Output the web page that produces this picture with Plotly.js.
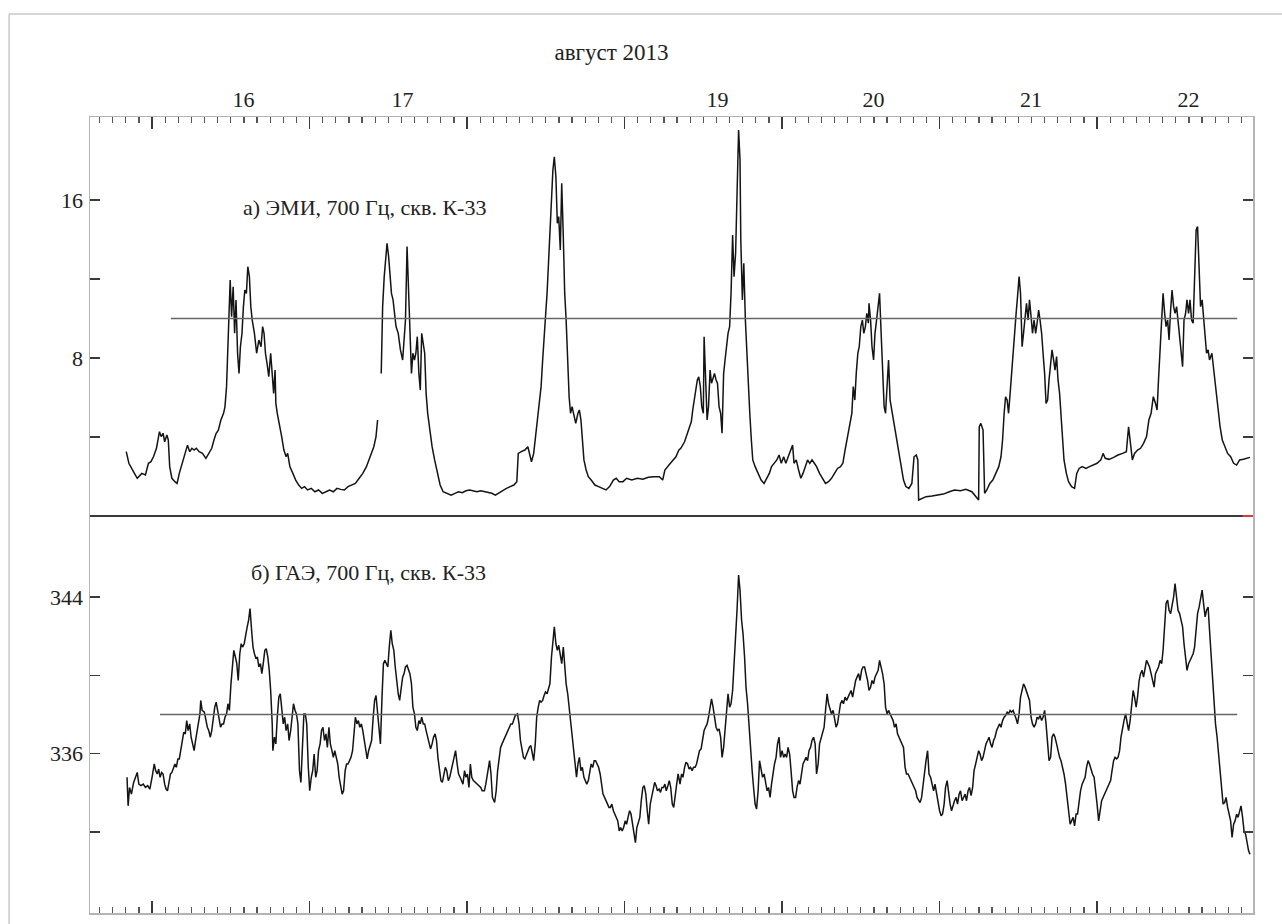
<!DOCTYPE html>
<html>
<head>
<meta charset="utf-8">
<script src="https://cdn.plot.ly/plotly-3.0.1.min.js"></script>
<style>
html,body{margin:0;padding:0;background:#fff;}
#chart{width:1282px;height:924px;}
</style>
</head>
<body>
<div id="chart"></div>
<script>
// ---- Data ----
// Time axis: day of August 2013 (fractional)
const dayLabels = ["16", "17", "19", "20", "21", "22"];
const dayLabelPos = [16.58, 17.59, 19.59, 20.58, 21.58, 22.58];
const yTicksEMI = [4, 8, 12, 16];
const yTickTextEMI = ["", "8", "", "16"];
const yTicksGAE = [332, 336, 340, 344];
const yTickTextGAE = ["", "336", "", "344"];

const titleText = "август 2013";
const labelEMI = "а) ЭМИ, 700 Гц, скв. К-33";
const labelGAE = "б) ГАЭ, 700 Гц, скв. К-33";

const emiThreshold = 10;
const gaeThreshold = 338;
const emiThresholdDays = [16.12, 22.89];
const gaeThresholdDays = [16.05, 22.89];

const emiDay = [
15.836,15.853,15.888,15.906,15.935,15.958,15.977,15.993,16.009,16.028,16.047,16.058,16.070,16.080,16.094,16.103,16.112,16.126,16.145,16.159,
16.173,16.192,16.211,16.225,16.239,16.253,16.267,16.281,16.299,16.320,16.342,16.360,16.379,16.393,16.407,16.421,16.437,16.454,16.463,16.473,
16.480,16.487,16.496,16.505,16.515,16.524,16.533,16.543,16.552,16.561,16.571,16.580,16.589,16.599,16.608,16.618,16.627,16.636,16.650,16.664,
16.678,16.692,16.702,16.711,16.720,16.730,16.741,16.753,16.763,16.772,16.781,16.786,16.795,16.809,16.823,16.837,16.851,16.861,16.875,16.894,
16.912,16.931,16.950,16.968,16.987,17.011,17.034,17.057,17.081,17.104,17.127,17.151,17.174,17.198,17.221,17.244,17.268,17.291,17.315,17.338,
17.361,17.385,17.408,17.422,17.432,17.444,
17.455,17.464,17.474,17.483,17.492,17.502,17.511,17.520,17.530,17.539,17.549,17.563,17.577,17.591,17.600,17.609,17.619,17.628,17.637,17.647,
17.656,17.666,17.675,17.684,17.694,17.703,17.712,17.722,17.731,17.740,17.750,17.764,17.778,17.794,17.811,17.829,17.848,17.876,17.899,17.923,
17.946,17.970,17.993,18.016,18.040,18.063,18.087,18.110,18.133,18.157,18.180,18.204,18.227,18.250,18.274,18.297,18.316,18.325,18.344,18.367,
18.386,18.395,18.409,18.423,18.437,18.452,18.461,18.470,18.480,18.489,18.498,18.508,18.517,18.526,18.536,18.545,18.554,18.564,18.573,18.582,
18.592,18.601,18.611,18.620,18.629,18.639,18.648,18.657,18.667,18.676,18.690,18.704,18.713,18.723,18.732,18.742,18.756,18.770,18.788,18.812,
18.835,18.858,18.882,18.905,18.929,18.947,18.966,18.990,19.013,19.046,19.081,19.116,19.151,19.186,19.221,19.242,19.256,19.291,19.326,19.345,
19.357,19.381,19.405,19.424,19.433,19.443,19.452,19.462,19.471,19.481,19.490,19.500,19.505,19.514,19.524,19.533,19.543,19.552,19.562,19.571,
19.581,19.590,19.600,19.610,19.619,19.629,19.638,19.648,19.657,19.667,19.676,19.686,19.695,19.705,19.714,19.724,19.733,19.738,19.748,19.757,
19.767,19.776,19.786,19.795,19.805,19.814,19.829,19.848,19.867,19.886,19.905,19.919,19.933,19.948,19.967,19.981,19.995,20.010,20.024,20.043,
20.057,20.067,20.076,20.090,20.105,20.119,20.133,20.148,20.162,20.176,20.190,20.205,20.219,20.238,20.257,20.276,20.295,20.314,20.333,20.352,
20.371,20.386,20.400,20.414,20.429,20.443,20.452,20.462,20.471,20.481,20.490,20.500,20.510,20.519,20.529,20.538,20.548,20.552,20.562,20.571,
20.581,20.590,20.600,20.610,20.619,20.629,20.638,20.648,20.657,20.667,20.676,20.686,20.700,20.714,20.729,20.743,20.757,20.771,20.786,20.805,
20.824,20.838,20.852,20.862,20.867,20.886,20.914,20.952,20.990,21.024,21.062,21.095,21.133,21.167,21.205,21.233,21.248,21.252,21.262,21.276,
21.286,21.300,21.319,21.338,21.357,21.376,21.390,21.400,21.410,21.419,21.429,21.438,21.448,21.457,21.467,21.476,21.486,21.495,21.505,21.514,
21.524,21.533,21.543,21.552,21.562,21.571,21.581,21.590,21.600,21.610,21.619,21.629,21.638,21.648,21.657,21.667,21.676,21.686,21.695,21.705,
21.714,21.724,21.733,21.743,21.752,21.762,21.771,21.781,21.790,21.805,21.819,21.838,21.857,21.871,21.886,21.905,21.929,21.952,21.976,22.000,
22.024,22.038,22.052,22.076,22.105,22.133,22.162,22.186,22.200,22.210,22.224,22.238,22.257,22.276,22.295,22.314,22.329,22.343,22.357,22.371,
22.381,22.390,22.400,22.410,22.419,22.429,22.438,22.448,22.457,22.467,22.476,22.486,22.495,22.505,22.514,22.524,22.533,22.543,22.552,22.562,
22.571,22.581,22.590,22.600,22.610,22.619,22.629,22.638,22.648,22.657,22.667,22.676,22.686,22.695,22.705,22.714,22.729,22.738,22.752,22.767,
22.781,22.795,22.810,22.829,22.848,22.867,22.886,22.905,22.929,22.952,22.971
];
const emiValue = [
3.26,2.67,2.16,1.91,2.16,2.08,2.67,2.75,3.00,3.43,4.27,4.02,4.19,3.76,4.10,3.85,2.50,1.91,1.74,1.65,
2.16,2.67,3.26,3.59,3.26,3.43,3.34,3.43,3.26,3.17,2.92,3.17,3.43,3.85,4.19,4.35,4.86,5.20,5.54,6.55,
8.24,9.76,11.95,10.09,11.61,9.25,10.94,8.24,7.22,8.57,9.25,10.60,11.44,11.27,12.62,12.12,10.60,9.92,9.25,8.24,
8.91,8.57,9.59,9.25,8.24,7.73,7.05,8.24,6.89,6.21,7.39,5.70,5.20,4.69,4.02,3.34,3.00,3.17,2.50,2.16,
1.82,1.57,1.40,1.49,1.32,1.40,1.23,1.32,1.15,1.23,1.32,1.23,1.40,1.35,1.32,1.49,1.57,1.65,1.91,2.16,
2.50,3.00,3.51,4.02,4.86,null,
7.22,10.60,12.12,12.96,13.81,13.13,12.12,11.27,10.94,10.09,9.59,9.25,8.41,7.90,8.74,9.92,13.64,11.61,9.25,7.22,
8.24,7.90,8.24,9.08,7.22,6.38,9.25,8.57,8.24,6.21,5.20,4.35,3.51,2.84,2.16,1.57,1.23,1.15,1.06,1.15,
1.23,1.18,1.28,1.32,1.28,1.23,1.28,1.23,1.18,1.15,1.06,1.18,1.32,1.40,1.49,1.57,1.74,3.17,3.26,3.34,
3.51,3.17,2.75,3.17,4.19,5.20,5.70,6.55,7.90,9.25,10.09,11.27,12.96,14.48,15.83,17.52,18.19,17.18,14.82,15.16,
13.47,16.84,14.14,11.27,9.92,7.56,6.04,5.20,5.54,5.20,4.69,5.20,5.37,4.86,3.85,2.84,2.33,1.99,1.82,1.57,
1.49,1.40,1.32,1.49,1.82,1.91,1.74,1.74,1.91,1.82,1.91,1.86,1.96,1.99,1.99,1.82,2.33,2.67,3.00,3.34,
3.43,3.76,4.35,4.78,5.37,5.87,6.21,6.89,7.05,6.55,5.54,5.20,9.08,6.89,4.86,5.54,7.39,6.72,7.05,7.22,
6.89,6.72,5.54,5.20,4.19,7.22,7.90,8.74,9.25,9.59,11.27,14.23,12.12,13.30,16.17,19.54,18.03,13.97,10.94,12.79,
9.92,8.24,6.55,5.20,3.85,2.84,2.50,2.16,1.82,1.65,1.91,2.16,2.50,2.67,2.84,3.09,2.67,3.00,2.67,3.09,
3.43,3.59,2.67,2.84,2.33,1.91,2.16,2.50,2.84,2.67,2.84,2.67,2.50,2.16,1.91,1.65,1.74,1.91,2.16,2.41,
2.50,2.67,3.34,4.02,4.52,5.20,6.55,5.87,7.22,8.24,8.57,9.59,9.92,9.25,9.59,10.26,9.76,10.77,9.92,8.57,
7.90,9.25,9.92,10.60,11.27,9.25,7.22,5.54,5.20,6.89,7.90,5.87,5.20,4.35,3.85,3.17,2.33,1.82,1.49,1.40,
1.65,3.00,3.09,2.84,0.81,0.89,0.98,1.01,1.06,1.11,1.23,1.32,1.28,1.35,1.23,0.98,0.81,4.52,4.69,4.35,
1.15,1.32,1.65,1.82,2.16,2.50,3.00,3.85,5.20,6.04,5.87,5.20,6.21,7.22,8.57,9.25,10.26,11.11,12.12,11.27,
8.57,9.25,10.26,10.77,9.92,10.94,10.09,9.25,9.92,9.25,9.76,10.43,9.92,9.25,8.24,7.22,5.70,5.87,6.89,7.90,
8.41,7.90,7.39,8.07,6.89,6.21,5.20,3.85,2.84,2.16,1.74,1.49,1.40,2.16,2.41,2.50,2.41,2.50,2.58,2.67,
2.84,3.17,2.92,2.87,2.97,3.09,3.17,3.26,4.52,3.68,2.84,3.17,3.34,3.43,3.68,4.02,4.86,5.20,6.04,5.70,
5.37,6.89,8.57,9.92,11.27,10.26,9.59,9.92,8.91,10.43,11.44,10.60,10.26,10.60,9.92,9.25,8.24,7.56,9.92,10.26,
10.94,10.26,10.94,9.92,9.76,11.95,14.48,14.65,12.46,10.60,10.94,9.92,9.08,8.24,8.41,7.90,8.24,7.56,6.55,5.54,
4.52,3.85,3.51,3.17,3.00,2.67,2.58,2.84,2.87,2.92,2.97
];

const gaeDay = [
15.841,15.848,15.857,15.869,15.883,15.897,15.906,15.916,15.930,15.944,15.958,15.972,15.986,16.000,16.014,16.023,16.033,16.042,16.051,16.061,
16.070,16.080,16.089,16.098,16.108,16.117,16.126,16.136,16.145,16.154,16.164,16.173,16.182,16.192,16.201,16.211,16.220,16.229,16.239,16.248,
16.257,16.267,16.276,16.285,16.295,16.304,16.309,16.318,16.332,16.342,16.351,16.360,16.370,16.379,16.388,16.398,16.407,16.416,16.426,16.435,
16.444,16.454,16.463,16.473,16.482,16.491,16.501,16.510,16.519,16.529,16.538,16.547,16.557,16.566,16.575,16.585,16.594,16.604,16.613,16.622,
16.632,16.641,16.650,16.660,16.669,16.678,16.688,16.697,16.706,16.716,16.725,16.735,16.744,16.753,16.763,16.767,16.777,16.786,16.795,16.805,
16.814,16.823,16.833,16.842,16.851,16.861,16.870,16.880,16.889,16.898,16.908,16.917,16.926,16.936,16.945,16.954,16.964,16.973,16.982,16.992,
17.001,17.011,17.020,17.029,17.039,17.048,17.057,17.067,17.076,17.085,17.095,17.104,17.113,17.123,17.132,17.142,17.151,17.160,17.170,17.179,
17.188,17.198,17.207,17.216,17.226,17.235,17.244,17.254,17.263,17.273,17.282,17.291,17.301,17.310,17.319,17.329,17.338,17.347,17.357,17.366,
17.375,17.385,17.394,17.404,17.413,17.422,17.432,17.441,17.450,17.460,17.469,17.478,17.488,17.497,17.506,17.516,17.525,17.535,17.544,17.553,
17.563,17.572,17.581,17.591,17.600,17.609,17.619,17.628,17.637,17.647,17.656,17.666,17.675,17.684,17.694,17.703,17.712,17.722,17.731,17.740,
17.750,17.759,17.768,17.778,17.787,17.797,17.806,17.815,17.825,17.834,17.843,17.853,17.862,17.871,17.881,17.890,17.899,17.909,17.918,17.927,
17.937,17.946,17.956,17.965,17.974,17.984,17.993,18.002,18.012,18.021,18.030,18.040,18.054,18.068,18.087,18.096,18.110,18.119,18.133,18.143,
18.152,18.161,18.175,18.185,18.194,18.204,18.213,18.222,18.232,18.241,18.250,18.260,18.269,18.278,18.288,18.297,18.306,18.320,18.330,18.339,
18.349,18.358,18.367,18.377,18.386,18.395,18.405,18.414,18.423,18.433,18.442,18.452,18.461,18.470,18.480,18.489,18.498,18.508,18.517,18.526,
18.536,18.545,18.554,18.564,18.573,18.582,18.592,18.601,18.611,18.620,18.629,18.639,18.648,18.657,18.667,18.676,18.685,18.695,18.704,18.713,
18.723,18.732,18.742,18.751,18.760,18.770,18.779,18.788,18.798,18.807,18.816,18.826,18.835,18.845,18.854,18.863,18.873,18.882,18.891,18.901,
18.910,18.919,18.929,18.938,18.947,18.957,18.966,18.975,18.985,18.994,19.004,19.013,19.022,19.032,19.041,19.050,19.060,19.069,19.078,19.088,
19.097,19.106,19.116,19.125,19.135,19.144,19.153,19.163,19.172,19.181,19.191,19.200,19.209,19.219,19.228,19.237,19.247,19.256,19.265,19.275,
19.284,19.293,19.303,19.312,19.322,19.331,19.340,
19.352,19.362,19.371,19.381,19.390,19.400,19.410,19.419,19.429,19.438,19.448,19.457,19.467,19.476,19.486,19.495,19.505,19.514,19.524,19.533,
19.543,19.552,19.562,19.571,19.581,19.590,19.600,19.610,19.619,19.629,19.638,19.648,19.657,19.667,19.676,19.686,19.695,19.705,19.714,19.724,
19.733,19.743,19.752,19.762,19.771,19.781,19.790,19.800,19.810,19.819,19.829,19.838,19.848,19.857,19.867,19.876,19.886,19.895,19.905,19.914,
19.924,19.933,19.943,19.952,19.962,19.971,19.981,19.990,20.000,20.010,20.019,20.029,20.038,20.048,20.057,20.067,20.076,20.086,20.095,20.105,
20.114,20.124,20.133,20.143,20.152,20.162,20.171,20.181,20.190,20.200,20.210,20.219,20.229,20.238,20.248,20.257,20.267,20.276,20.286,20.295,
20.305,20.314,20.324,20.333,20.343,20.352,20.362,20.371,20.381,20.390,20.400,20.410,20.419,20.429,20.438,20.448,20.457,20.467,20.476,20.486,
20.495,20.505,20.514,20.524,20.533,20.543,20.552,20.562,20.571,20.581,20.590,20.600,20.610,20.619,20.629,20.638,20.648,20.657,20.667,20.676,
20.686,20.695,20.705,20.714,20.724,20.733,20.743,20.752,20.762,20.771,20.781,20.790,20.800,20.810,20.819,20.829,20.838,20.848,20.857,20.867,
20.876,20.886,20.895,20.905,20.914,20.924,20.933,20.943,20.952,20.962,20.971,20.981,20.990,21.000,21.010,21.019,21.029,21.038,21.048,21.057,
21.067,21.076,21.086,21.095,21.105,21.114,21.124,21.133,21.143,21.152,21.162,21.171,21.181,21.190,21.200,21.210,21.219,21.229,21.238,21.248,
21.257,21.267,21.276,21.286,21.295,21.305,21.314,21.324,21.333,21.343,21.352,21.362,21.371,21.381,21.390,21.400,21.410,21.419,21.429,21.438,
21.448,21.457,21.467,21.476,21.486,21.495,21.505,21.514,21.524,21.533,21.543,21.552,21.562,21.571,21.581,21.590,21.600,21.610,21.619,21.629,
21.638,21.648,21.657,21.667,21.676,21.686,21.695,21.705,21.714,21.724,21.733,21.743,21.752,21.762,21.771,21.781,21.790,21.800,21.810,21.819,
21.829,21.838,21.848,21.857,21.867,21.876,21.886,21.895,21.905,21.914,21.924,21.933,21.943,21.952,21.962,21.971,21.981,21.990,22.000,22.010,
22.019,22.029,22.038,22.048,22.057,22.067,22.076,22.086,22.095,22.105,22.114,22.124,22.133,22.143,22.152,22.162,22.171,22.181,22.190,22.200,
22.210,22.219,22.229,22.238,22.248,22.257,22.267,22.276,22.286,22.295,22.305,22.314,22.324,22.333,22.343,22.352,22.362,22.371,22.381,22.390,
22.400,22.410,22.419,22.429,22.438,22.448,22.457,22.467,22.476,22.486,22.495,22.505,22.514,22.524,22.533,22.543,22.552,22.562,22.571,22.581,
22.590,22.600,22.610,22.619,22.629,22.638,22.648,22.657,22.667,22.676,22.686,22.695,22.705,22.714,22.724,22.733,22.743,22.752,22.762,22.771,
22.781,22.790,22.800,22.810,22.819,22.829,22.838,22.848,22.857,22.867,22.876,22.886,22.895,22.905,22.914,22.924,22.933,22.943,22.952,22.962,
22.971
];
const gaeValue = [
334.79,333.33,334.27,333.93,334.53,334.79,335.04,334.44,334.36,334.44,334.27,334.36,334.19,334.79,335.47,335.13,334.96,335.21,334.79,335.04,
334.96,334.44,334.19,334.10,334.62,334.96,335.04,335.30,335.47,335.30,335.73,335.73,336.15,336.84,337.09,337.01,337.69,337.18,337.52,336.84,
336.50,336.15,336.67,337.18,337.52,338.03,338.72,338.21,338.12,337.69,337.35,337.18,336.84,337.18,337.86,338.38,338.63,338.21,337.86,337.35,
337.52,337.52,337.86,338.03,338.55,338.21,339.57,340.43,341.28,340.94,340.60,339.74,341.11,341.62,341.45,341.62,342.14,342.48,342.82,343.42,
342.31,341.45,341.11,340.85,340.94,340.43,340.60,340.09,340.60,341.28,341.37,340.94,340.26,339.23,337.52,336.15,336.84,336.50,337.86,338.89,
339.06,338.21,337.52,337.86,337.18,337.52,336.67,337.18,337.86,338.55,338.21,338.03,337.52,335.13,334.53,336.50,338.03,338.03,337.52,335.30,
334.10,334.79,335.13,335.98,334.79,335.13,336.15,336.50,337.18,337.35,336.67,337.01,336.32,337.35,336.50,336.15,335.81,336.15,335.81,335.47,
334.79,334.27,333.93,334.10,335.13,335.47,335.47,335.64,335.81,336.15,337.18,337.86,337.52,337.69,337.35,337.52,337.18,336.67,335.98,335.73,
336.15,336.50,336.67,337.86,338.72,338.97,338.21,337.52,336.50,338.89,340.60,340.77,340.60,340.43,341.45,342.31,341.62,341.28,340.43,339.57,
339.06,338.72,339.23,339.91,340.09,340.43,340.51,340.26,340.09,339.57,338.38,338.03,337.35,337.18,337.69,337.52,337.86,337.52,337.52,337.18,
336.84,336.50,336.24,336.50,336.84,337.01,336.67,335.81,335.13,334.62,334.53,334.96,335.30,335.13,334.62,334.79,335.13,335.47,335.98,336.15,
335.47,334.96,334.79,334.62,334.44,335.13,334.79,334.96,334.27,335.47,334.79,334.62,334.53,334.44,334.27,334.10,334.10,334.44,335.13,335.64,
334.96,333.76,333.50,334.10,335.13,335.64,336.32,336.50,336.67,336.84,337.01,337.18,337.35,337.52,337.52,337.69,337.95,338.03,337.52,336.67,
336.15,335.81,335.73,335.98,336.15,336.32,336.41,335.98,335.64,336.50,337.86,338.38,338.72,338.63,338.72,338.97,339.15,339.06,339.40,339.57,
340.94,341.62,342.48,341.62,341.28,341.54,340.94,340.60,341.45,340.26,339.57,339.06,338.38,337.52,336.84,336.15,335.30,334.79,335.47,335.81,
335.13,335.30,334.79,334.62,334.44,334.62,335.13,335.47,335.30,335.64,335.64,335.47,335.30,334.96,334.44,333.93,333.76,333.59,333.42,333.25,
333.25,333.42,333.08,332.91,332.74,332.56,332.05,332.22,332.05,332.22,332.56,332.39,332.74,333.08,332.91,332.39,332.05,331.45,332.22,332.56,
332.74,333.59,334.27,334.36,333.93,333.08,332.39,333.42,333.76,334.27,334.53,334.36,334.10,334.19,334.02,334.27,334.27,334.44,334.10,334.36,
334.62,334.27,333.42,333.25,333.76,334.44,334.96,
334.44,334.96,334.79,335.30,335.56,335.47,335.21,335.30,335.13,335.30,335.30,335.47,335.81,336.15,336.24,336.67,337.18,337.35,337.52,337.86,
338.38,338.80,338.38,337.86,337.35,337.18,337.26,336.84,335.81,336.32,337.35,338.55,339.06,338.38,338.55,339.23,340.43,341.62,343.33,345.13,
344.36,342.82,342.14,340.94,339.40,338.55,337.35,336.32,335.13,334.27,333.42,333.16,334.10,335.64,335.13,334.79,334.96,334.44,334.10,334.27,
333.76,334.44,335.13,335.47,335.81,336.50,336.84,335.81,336.15,335.81,335.98,335.81,336.32,335.98,335.13,334.10,333.76,333.76,334.27,334.62,
334.44,334.96,335.47,335.64,335.81,335.64,336.15,336.32,336.67,336.84,336.50,334.96,335.47,336.50,336.84,337.01,337.35,338.21,339.06,338.55,
338.21,338.03,338.21,337.86,337.35,337.52,338.21,338.55,338.72,338.55,338.89,338.72,338.89,339.06,339.23,338.89,339.40,339.74,339.91,340.09,
339.74,340.26,340.43,340.43,340.09,339.74,339.23,339.40,339.74,339.57,339.91,340.09,340.26,340.77,340.43,340.09,339.57,338.38,338.03,338.21,
338.03,337.86,337.69,337.35,337.52,337.01,336.84,336.67,336.50,336.32,335.30,334.96,334.96,334.79,334.62,334.44,334.27,334.10,333.76,333.59,
333.50,333.76,334.44,334.96,335.64,336.15,334.96,334.79,334.44,334.10,334.44,333.93,333.42,333.08,332.82,332.91,333.42,334.27,334.62,333.93,
333.42,333.08,333.42,333.59,333.76,333.42,333.93,334.10,333.59,333.76,333.93,333.59,334.10,334.27,333.85,334.27,335.13,335.47,335.81,336.15,
335.98,335.64,335.81,336.15,336.50,336.67,336.84,336.50,336.32,336.67,336.84,337.18,337.35,337.52,337.35,337.69,337.86,337.95,338.12,338.03,
338.21,338.12,338.21,338.03,337.78,337.52,338.03,338.89,339.23,339.57,339.40,339.15,338.89,338.72,337.86,337.52,337.35,337.52,337.86,337.78,
337.95,337.69,337.86,338.21,337.52,336.50,335.64,335.81,336.84,337.01,336.84,336.50,336.15,335.81,335.64,335.30,334.96,334.44,333.76,333.08,
332.39,332.56,332.74,332.31,332.91,332.91,333.59,334.10,334.44,334.62,334.79,335.30,335.64,335.47,335.13,334.96,334.79,334.27,333.42,332.56,
333.08,333.59,333.76,333.93,334.10,334.27,334.44,334.62,335.13,335.64,335.81,335.73,335.81,336.15,336.84,337.35,337.69,338.03,337.52,337.18,
337.69,338.55,339.23,338.89,338.38,338.89,339.74,340.09,340.26,339.91,340.43,340.77,340.60,340.43,340.09,339.74,339.40,340.09,340.26,340.43,
340.77,340.60,341.28,342.48,343.68,343.85,343.33,343.16,343.50,344.02,344.70,343.85,343.33,343.16,342.82,342.48,341.62,340.94,340.26,340.60,
340.77,340.94,341.11,341.45,342.48,343.16,343.50,344.02,344.36,343.68,342.99,343.33,343.50,342.31,340.94,339.57,338.55,337.52,336.84,335.98,
335.13,334.10,333.42,333.50,333.76,333.25,332.91,332.56,331.71,332.39,332.56,332.91,332.74,333.08,333.33,332.74,332.05,331.88,331.37,331.03,
330.85
];

// ---- Styles ----
const FONT = "'Liberation Serif', 'Times New Roman', serif";
const xRange = [15.606, 22.99];
const lineGray = "#b4b4b4";
const tickDark = "#3a3a3a";

const tickAxis = (extra) => Object.assign({
  range: xRange, showgrid: false, zeroline: false,
  showline: true, linecolor: lineGray, linewidth: 1.5,
  ticks: "inside", tickmode: "linear", tick0: 16, dtick: 1,
  ticklen: 12, tickwidth: 1.5, tickcolor: tickDark,
  showticklabels: false, fixedrange: true,
  minor: {ticks: "inside", tickmode: "linear", tick0: 16, dtick: 1/12,
          ticklen: 6, tickwidth: 1.2, tickcolor: "#555", showgrid: false}
}, extra);

const traces = [
  {x: emiDay, y: emiValue, xaxis: "x2", yaxis: "y", type: "scatter", mode: "lines",
   line: {color: "#141414", width: 1.5}, connectgaps: false, hoverinfo: "skip"},
  {x: emiThresholdDays, y: [emiThreshold, emiThreshold], xaxis: "x3", yaxis: "y", type: "scatter", mode: "lines",
   line: {color: "#666", width: 1.5}, hoverinfo: "skip"},
  {x: gaeDay, y: gaeValue, xaxis: "x", yaxis: "y2", type: "scatter", mode: "lines",
   line: {color: "#141414", width: 1.5}, hoverinfo: "skip"},
  {x: gaeThresholdDays, y: [gaeThreshold, gaeThreshold], xaxis: "x", yaxis: "y2", type: "scatter", mode: "lines",
   line: {color: "#666", width: 1.5}, hoverinfo: "skip"}
];

const split = 0.4987;
const yCommon = {
  showgrid: false, zeroline: false, showline: true, linecolor: lineGray, linewidth: 1.5,
  mirror: "ticks", ticks: "inside", ticklen: 10, tickwidth: 1.5, tickcolor: tickDark,
  tickfont: {family: FONT, size: 22, color: "#222"}, ticklabelstandoff: 1, fixedrange: true
};

const layout = {
  width: 1282, height: 924,
  margin: {l: 90, r: 29, t: 117, b: 11, pad: 0},
  paper_bgcolor: "#fff", plot_bgcolor: "#fff",
  showlegend: false,
  font: {family: FONT, color: "#222"},
  title: {text: titleText, font: {family: FONT, size: 23, color: "#222"},
          x: 0.477, xref: "container", xanchor: "center",
          y: 0.9437, yref: "container", yanchor: "middle"},
  xaxis: tickAxis({anchor: "y2"}),
  xaxis2: tickAxis({anchor: "y", side: "top"}),
  xaxis3: {range: xRange, anchor: "y", side: "top", overlaying: "x2",
           showgrid: false, zeroline: false, showline: false, ticks: "",
           tickmode: "array", tickvals: dayLabelPos, ticktext: dayLabels,
           tickfont: {family: FONT, size: 22, color: "#222"}, ticklabelstandoff: 5, fixedrange: true},
  yaxis: Object.assign({}, yCommon, {domain: [split, 1], range: [0, 20.2], anchor: "x2",
           tickmode: "array", tickvals: yTicksEMI, ticktext: yTickTextEMI}),
  yaxis2: Object.assign({}, yCommon, {domain: [0, split], range: [327.85, 348.15], anchor: "x",
           tickmode: "array", tickvals: yTicksGAE, ticktext: yTickTextGAE}),
  annotations: [
    {text: labelEMI, xref: "x2", yref: "y", x: 17.348, y: 15.6, showarrow: false,
     xanchor: "center", yanchor: "middle", font: {family: FONT, size: 22, color: "#222"}},
    {text: labelGAE, xref: "x", yref: "y2", x: 17.373, y: 345.28, showarrow: false,
     xanchor: "center", yanchor: "middle", font: {family: FONT, size: 22, color: "#222"}}
  ],
  shapes: [
    {type: "line", xref: "paper", yref: "paper", x0: 0, x1: 1, y0: split, y1: split,
     line: {color: "#3a3a3a", width: 2}},
    {type: "line", xref: "paper", yref: "paper", x0: 0.991, x1: 1, y0: split, y1: split,
     line: {color: "#d04040", width: 2}},
    {type: "line", xref: "paper", yref: "paper", x0: -0.0696, x1: 1.03, y0: 1.1294, y1: 1.1294,
     line: {color: "#c8c8c8", width: 1.5}},
    {type: "line", xref: "paper", yref: "paper", x0: -0.0696, x1: -0.0696, y0: 1.1294, y1: -0.02,
     line: {color: "#c8c8c8", width: 1.5}}
  ]
};

Plotly.newPlot("chart", traces, layout, {staticPlot: true, displayModeBar: false});
</script>
</body>
</html>
